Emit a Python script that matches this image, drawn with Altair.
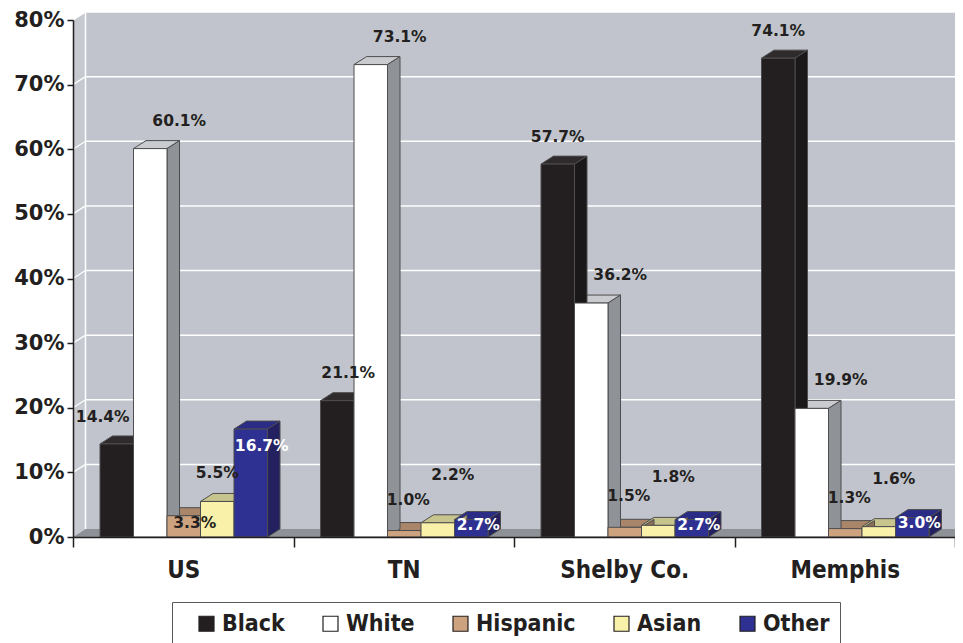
import json
import altair as alt
import pandas as pd

# ---------------- data ----------------
categories = ["US", "TN", "Shelby Co.", "Memphis"]
races = ["Black", "White", "Hispanic", "Asian", "Other"]
black = [14.4, 21.1, 57.7, 74.1]
white = [60.1, 73.1, 36.2, 19.9]
hispanic = [3.3, 1.0, 1.5, 1.3]
asian = [5.5, 2.2, 1.8, 1.6]
other = [16.7, 2.7, 2.7, 3.0]
y_ticks = [0, 10, 20, 30, 40, 50, 60, 70, 80]

# ---------------- styles ----------------
front_colors = {"Black": "#231f20", "White": "#ffffff", "Hispanic": "#cda27e",
                "Asian": "#f9f1a9", "Other": "#2e3192"}
top_colors = {"Black": "#2f2b2c", "White": "#c9cbce", "Hispanic": "#a98669",
              "Asian": "#c8c48e", "Other": "#2a2c86"}
side_colors = {"Black": "#1b1819", "White": "#8f9397", "Hispanic": "#8b6e57",
               "Asian": "#a9a276", "Other": "#232160"}
label_colors = {"Black": "#231f20", "White": "#231f20", "Hispanic": "#231f20",
                "Asian": "#231f20", "Other": "#ffffff"}
# label offset (px) from front-top centre of each bar: per-race default + a few overrides
label_off = {"Black": (0, -27), "White": (29, -28), "Hispanic": (4, -31),
             "Asian": (15, -48), "Other": (7, 5.5)}
label_override = {("US", "Black"): (-14, -27), ("TN", "Black"): (11, -28),
                  ("US", "Hispanic"): (11, 7), ("US", "Asian"): (0, -28),
                  ("US", "Other"): (11, 17)}

W, H = 882, 517
YMAX = 80
PXX = W / len(categories)     # px per x unit
PXY = H / YMAX                # px per percent
BAR_START, BAR_W = 27, 33.5   # px
DX, DY = 12.5, 8.0            # depth (px)
dxu, dyu = DX / PXX, DY / PXY
XEND = len(categories) + 0.2

series = {"Black": black, "White": white, "Hispanic": hispanic, "Asian": asian, "Other": other}

front, tops, sides, labels = [], [], [], []
for gi, cat in enumerate(categories):
    for ri, race in enumerate(races):
        v = series[race][gi]
        x0 = gi + (BAR_START + ri * BAR_W) / PXX
        x1 = x0 + BAR_W / PXX
        bid = f"{cat}-{race}"
        front.append({"id": bid, "race": race, "x0": x0, "x1": x1, "y0": 0, "v": v})
        tops.append({"id": bid, "c": top_colors[race], "y": v, "xa": x0, "xb": x1})
        tops.append({"id": bid, "c": top_colors[race], "y": v + dyu, "xa": x0 + dxu, "xb": x1 + dxu})
        sides.append({"id": bid, "c": side_colors[race], "x": x1, "ya": 0, "yb": v})
        sides.append({"id": bid, "c": side_colors[race], "x": x1 + dxu, "ya": dyu, "yb": v + dyu})
        ox, oy = label_override.get((cat, race), label_off[race])
        labels.append({"t": f"{v:.1f}%", "c": label_colors[race],
                       "lx": (x0 + x1) / 2 + ox / PXX, "ly": v - oy / PXY})

front = pd.DataFrame(front)
tops = pd.DataFrame(tops)
sides = pd.DataFrame(sides)
labels = pd.DataFrame(labels)

xs = alt.Scale(domain=[0, len(categories)], nice=False, zero=False)
ys = alt.Scale(domain=[0, YMAX], nice=False)

cat_json = json.dumps(categories).replace('"', "'")
x_vals = [i * 0.5 for i in range(2 * len(categories) + 1)]

AX_X = alt.Axis(
    values=x_vals, title=None, grid=False, zindex=1,
    labelExpr=f"datum.value % 1 === 0 ? '' : {cat_json}[floor(datum.value)]",
    tickSize=10, tickColor="#231f20", tickWidth=1.5,
    tickOpacity={"condition": {"test": "datum.value % 1 === 0", "value": 1}, "value": 0},
    domainColor="#231f20", domainWidth=1.5, labelPadding=11,
    labelFont="DejaVu Sans Condensed", labelFontWeight="bold", labelFontSize=24,
    labelColor="#231f20", labelBaseline="top")
AX_Y = alt.Axis(
    values=y_ticks, title=None, grid=False, zindex=1, labelExpr="datum.value + '%'",
    tickSize=6, tickColor="#231f20", tickWidth=1.5, domainColor="#231f20", domainWidth=1.5,
    labelFont="DejaVu Sans", labelFontWeight="bold", labelFontSize=21, labelColor="#231f20",
    labelPadding=3)


def X(f):
    return alt.X(f, scale=xs, axis=AX_X)


def Y(f):
    return alt.Y(f, scale=ys, axis=AX_Y)


# ---------------- walls ----------------
wall = alt.Chart(pd.DataFrame({"x": [dxu], "x2": [XEND], "y": [dyu], "y2": [YMAX + dyu]})).mark_rect(
    color="#c1c4cc").encode(x=X("x:Q"), x2="x2:Q", y=Y("y:Q"), y2="y2:Q")

left_wall = alt.Chart(pd.DataFrame({"x": [0, dxu], "ya": [0, dyu], "yb": [YMAX, YMAX + dyu]})).mark_area(
    orient="vertical", color="#c6c9cf").encode(x=X("x:Q"), y=Y("ya:Q"), y2="yb:Q")

floor = alt.Chart(pd.DataFrame({"y": [0, dyu], "xa": [0, dxu], "xb": [XEND, XEND + dxu]})).mark_area(
    orient="horizontal", color="#8e9297").encode(y=Y("y:Q"), x=X("xa:Q"), x2="xb:Q")

grid_df = pd.DataFrame({"g": [t for t in y_ticks if t > 0]})
grid = alt.Chart(grid_df).transform_calculate(
    gy=f"datum.g + {dyu}", xa=f"{dxu}", xb=f"{XEND}").mark_rule(color="white", strokeWidth=1.5).encode(
    x=X("xa:Q"), x2="xb:Q", y=Y("gy:Q"))
diag = alt.Chart(grid_df).transform_calculate(
    gy=f"datum.g + {dyu}", xa="0", xb=f"{dxu}").mark_rule(color="white", strokeWidth=1.2).encode(
    x=X("xa:Q"), x2="xb:Q", y=Y("g:Q"), y2="gy:Q")
corner = alt.Chart(pd.DataFrame({"x": [dxu], "y": [dyu], "y2": [YMAX + dyu]})).mark_rule(
    color="white", strokeWidth=1.5).encode(x=X("x:Q"), y=Y("y:Q"), y2="y2:Q")

# ---------------- bars ----------------
edge = "#4d4d4f"
top_layer = alt.Chart(tops).mark_area(orient="horizontal", stroke=edge, strokeWidth=1).encode(
    y=Y("y:Q"), x=X("xa:Q"), x2="xb:Q", detail="id:N", fill=alt.Fill("c:N", scale=None))
side_layer = alt.Chart(sides).mark_area(orient="vertical", stroke=edge, strokeWidth=1).encode(
    x=X("x:Q"), y=Y("ya:Q"), y2="yb:Q", detail="id:N", fill=alt.Fill("c:N", scale=None))

front_layer = alt.Chart(front).mark_rect(stroke=edge, strokeWidth=1).encode(
    x=X("x0:Q"), x2="x1:Q", y=Y("y0:Q"), y2="v:Q",
    color=alt.Color("race:N", scale=alt.Scale(domain=races, range=[front_colors[r] for r in races]),
                    legend=alt.Legend(
                        orient="none", legendX=99, legendY=582, direction="horizontal", columns=5,
                        title=None, fillColor="white", strokeColor="#58595b", padding=10,
                        symbolType="square", symbolSize=225, symbolStrokeColor="#231f20",
                        symbolStrokeWidth=1.2, labelFont="DejaVu Sans Condensed",
                        labelFontWeight="bold", labelFontSize=23, labelColor="#231f20",
                        columnPadding=21, labelOffset=4, symbolOffset=13)),
)

text_layer = alt.Chart(labels).mark_text(
    font="DejaVu Sans", fontWeight="bold", fontSize=15.5, baseline="middle", align="center").encode(
    x=X("lx:Q"), y=Y("ly:Q"), text="t:N", color=alt.Color("c:N", scale=None))

chart = alt.layer(wall, left_wall, floor, grid, diag, corner, top_layer, side_layer,
                  front_layer, text_layer).properties(
    width=W, height=H, autosize="none",
    padding={"left": 65, "top": 12, "right": 0, "bottom": 106},
    background="white",
).configure_view(stroke=None)

chart.save("out.html", embed_options={"renderer": "svg", "actions": False})
